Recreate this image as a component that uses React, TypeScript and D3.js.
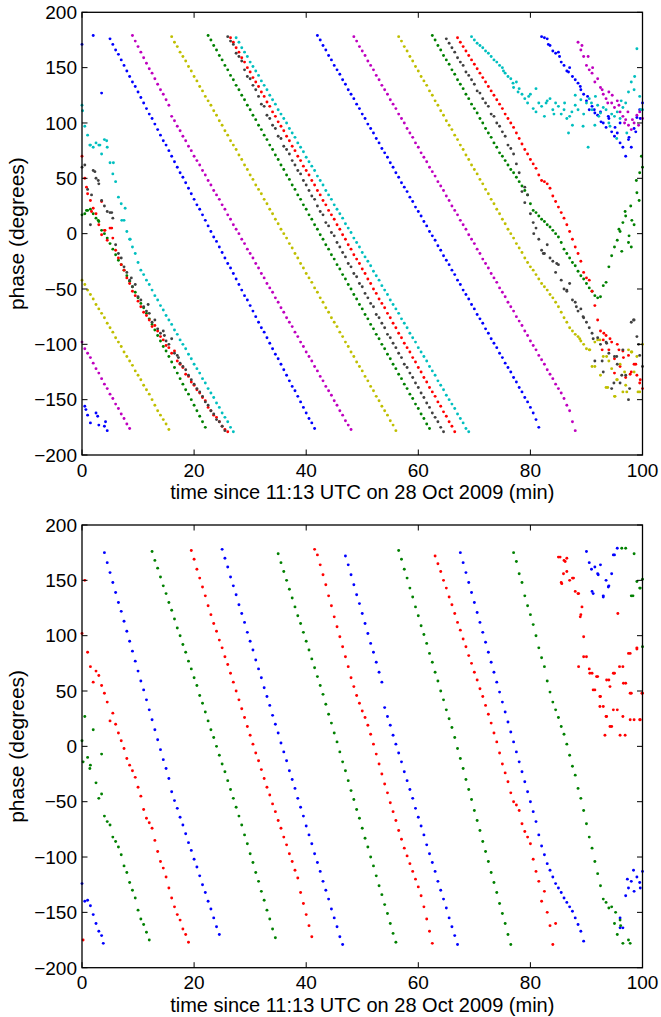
import React from "react";
import * as d3 from "d3";

// sample clock of the receiver (minutes since 11:13 UTC), one sample every 30 s
const timeMinutes = [
  0, 0.5, 1, 1.5, 2, 2.5, 3, 3.5, 4, 4.5,
  5, 5.5, 6, 6.5, 7, 7.5, 8, 8.5, 9, 9.5,
  10, 10.5, 11, 11.5, 12, 12.5, 13, 13.5, 14, 14.5,
  15, 15.5, 16, 16.5, 17, 17.5, 18, 18.5, 19, 19.5,
  20, 20.5, 21, 21.5, 22, 22.5, 23, 23.5, 24, 24.5,
  25, 25.5, 26, 26.5, 27, 27.5, 28, 28.5, 29, 29.5,
  30, 30.5, 31, 31.5, 32, 32.5, 33, 33.5, 34, 34.5,
  35, 35.5, 36, 36.5, 37, 37.5, 38, 38.5, 39, 39.5,
  40, 40.5, 41, 41.5, 42, 42.5, 43, 43.5, 44, 44.5,
  45, 45.5, 46, 46.5, 47, 47.5, 48, 48.5, 49, 49.5,
  50, 50.5, 51, 51.5, 52, 52.5, 53, 53.5, 54, 54.5,
  55, 55.5, 56, 56.5, 57, 57.5, 58, 58.5, 59, 59.5,
  60, 60.5, 61, 61.5, 62, 62.5, 63, 63.5, 64, 64.5,
  65, 65.5, 66, 66.5, 67, 67.5, 68, 68.5, 69, 69.5,
  70, 70.5, 71, 71.5, 72, 72.5, 73, 73.5, 74, 74.5,
  75, 75.5, 76, 76.5, 77, 77.5, 78, 78.5, 79, 79.5,
  80, 80.5, 81, 81.5, 82, 82.5, 83, 83.5, 84, 84.5,
  85, 85.5, 86, 86.5, 87, 87.5, 88, 88.5, 89, 89.5,
  90, 90.5, 91, 91.5, 92, 92.5, 93, 93.5, 94, 94.5,
  95, 95.5, 96, 96.5, 97, 97.5, 98, 98.5, 99, 99.5,
  100,
];

// ---------- top panel phases (degrees) ----------
const topBlue = [
  171, -156, -164, -171, 179, -162, -173, 127, -174, -178,
  176, 171, 166, 162, 157, 152, 147, 142, 137, 133,
  128, 123, 118, 113, 108, 104, 99, 94, 89, 84,
  80, 75, 70, 65, 60, 55, 51, 46, 41, 36,
  31, 26, 22, 17, 12, 7, 2, -3, -7, -12,
  -17, -22, -27, -31, -36, -41, -46, -51, -56, -60,
  -65, -70, -75, -80, -85, -89, -94, -99, -104, -109,
  -113, -118, -123, -128, -133, -138, -142, -147, -152, -157,
  -162, -167, -171, -176, 179, 175, 170, 166, 161, 157,
  152, 148, 144, 139, 135, 130, 126, 122, 117, 113,
  108, 104, 99, 95, 91, 86, 82, 77, 73, 69,
  64, 60, 55, 51, 46, 42, 38, 33, 29, 24,
  20, 16, 11, 7, 2, -2, -6, -11, -15, -20,
  -24, -28, -33, -37, -42, -46, -51, -55, -59, -64,
  -68, -73, -77, -81, -86, -90, -95, -99, -103, -108,
  -112, -117, -121, -125, -130, -134, -139, -143, -148, -152,
  -157, -162, -168, -175, 178, 177, 176, 170, 165, 163,
  164, 155, 152, 147, 150, 142, 139, 136, 130, 126,
  120, 112, 115, 109, 107, 110, 100, 96, 104, 92,
  88, 91, 82, 78, 70, 85, 78, 95, 105, 112,
  118,
];
const topGreen = [
  17, 18, 21, 22, 18, 14, 11, 3, 0, -4,
  -9, -14, -19, -24, -28, -33, -38, -43, -48, -53,
  -58, -63, -67, -72, -77, -82, -87, -92, -97, -102,
  -106, -111, -116, -121, -126, -131, -136, -141, -145, -150,
  -155, -160, -165, -170, -175, 179, 175, 170, 166, 161,
  157, 152, 148, 143, 139, 134, 130, 125, 121, 116,
  112, 107, 103, 98, 94, 89, 85, 80, 76, 71,
  67, 62, 58, 53, 49, 44, 40, 35, 31, 26,
  22, 17, 13, 8, 4, -1, -5, -10, -14, -19,
  -23, -28, -32, -37, -41, -46, -50, -55, -59, -64,
  -68, -73, -77, -82, -86, -91, -95, -100, -104, -109,
  -113, -118, -122, -127, -131, -136, -140, -145, -149, -154,
  -158, -163, -167, -172, -176, 179, 175, 170, 166, 161,
  157, 153, 148, 144, 139, 135, 131, 126, 122, 117,
  113, 109, 104, 100, 95, 91, 87, 82, 78, 73,
  70, 66, 62, 58, 55, 51, 47, 43, 39, 35,
  27, 21, 19, 16, 13, 11, 8, 6, 3, 0,
  -3, -8, -14, -18, -22, -26, -29, -34, -38, -41,
  -45, -49, -52, -56, -58, -57, -47, -44, -30, -20,
  -12, -6, 2, 10, 16, -8, -12, 8, 37, 55,
  60,
];
const topRed = [
  70, 50, 36, 30, 23, 18, 8, -1, 3, -6,
  5, -4, -15, -22, -28, -33, -40, -45, -52, -56,
  -61, -66, -71, -74, -78, -84, -83, -88, -93, -96,
  -101, -103, -108, -106, -115, -118, -121, -127, -129, -134,
  -137, -141, -144, -148, -151, -157, -160, -164, -166, -170,
  -174, -177, -179, 177, 173, 168, 164, 159, 155, 150,
  146, 141, 137, 133, 128, 124, 119, 115, 110, 106,
  101, 97, 93, 88, 84, 79, 75, 70, 66, 61,
  57, 53, 48, 44, 39, 35, 30, 26, 21, 17,
  13, 8, 4, -1, -5, -10, -14, -19, -23, -27,
  -32, -36, -41, -45, -50, -54, -59, -63, -67, -72,
  -76, -81, -85, -90, -94, -99, -103, -107, -112, -116,
  -121, -125, -130, -134, -139, -143, -147, -152, -156, -161,
  -165, -170, -174, -179, 177, 173, 169, 165, 161, 157,
  153, 149, 145, 141, 137, 133, 129, 125, 121, 117,
  113, 108, 104, 100, 96, 91, 86, 81, 76, 72,
  67, 63, 59, 53, 48, 47, 45, 41, 34, 29,
  24, 19, 14, 8, 2, -5, -12, -18, -25, -35,
  -40, -42, -52, -65, -78, -88, -96, -92, -105, -98,
  -113, -100, -120, -106, -130, -110, -125, -118, -128, -135,
  -140,
];
const topCyan = [
  116, 97, 89, 80, 78, 82, 80, 72, 85, 78,
  64, 54, 47, 33, 27, 12, 2, -5, -12, -18,
  -26, -33, -37, -42, -46, -51, -56, -60, -65, -69,
  -74, -78, -82, -87, -91, -96, -100, -104, -109, -113,
  -118, -122, -126, -131, -135, -140, -144, -148, -153, -157,
  -162, -166, -170, -175, -179, 177, 173, 168, 164, 160,
  155, 151, 147, 143, 138, 134, 130, 125, 121, 117,
  112, 108, 104, 100, 95, 91, 87, 82, 78, 74,
  69, 65, 61, 57, 52, 48, 44, 39, 35, 31,
  26, 22, 18, 14, 9, 5, 1, -4, -8, -12,
  -17, -21, -25, -29, -34, -38, -42, -47, -51, -55,
  -60, -64, -68, -72, -77, -81, -85, -90, -94, -98,
  -103, -107, -111, -115, -120, -124, -128, -133, -137, -141,
  -146, -150, -154, -158, -163, -167, -171, -176, -179, 178,
  175, 172, 170, 168, 165, 163, 160, 157, 155, 152,
  150, 145, 142, 140, 132, 137, 131, 126, 122, 118,
  126, 113, 110, 118, 115, 106, 120, 122, 112, 118,
  115, 108, 112, 104, 106, 98, 116, 112, 121, 108,
  118, 122, 112, 98, 116, 109, 114, 112, 100, 108,
  106, 110, 104, 114, 118, 128, 137, 130, 167, 124,
  112,
];
const topMagenta = [
  -98, -104, -108, -112, -117, -122, -126, -131, -136, -140,
  -145, -149, -154, -158, -163, -167, -172, -176, 179, 174,
  169, 164, 159, 154, 149, 145, 140, 135, 130, 126,
  121, 116, 106, 102, 97, 93, 88, 84, 79, 75,
  70, 66, 62, 57, 53, 48, 44, 39, 35, 31,
  26, 22, 17, 13, 8, 4, 0, -5, -9, -14,
  -18, -22, -27, -31, -36, -40, -45, -49, -53, -58,
  -62, -67, -71, -76, -80, -84, -89, -93, -98, -102,
  -107, -111, -115, -120, -124, -129, -133, -138, -142, -146,
  -151, -155, -160, -164, -169, -173, -177, 178, 174, 169,
  165, 161, 156, 152, 148, 143, 139, 134, 130, 126,
  121, 117, 113, 108, 104, 100, 95, 91, 87, 82,
  78, 73, 69, 65, 60, 56, 52, 47, 43, 39,
  34, 30, 25, 21, 17, 12, 8, 4, -1, -5,
  -9, -14, -18, -23, -27, -31, -36, -40, -44, -49,
  -53, -57, -62, -66, -70, -75, -79, -83, -88, -92,
  -97, -101, -105, -110, -114, -118, -123, -127, -131, -136,
  -140, -144, -149, -155, -160, -170, -178, 173, 166, 160,
  152, 148, 145, 137, 140, 132, 126, 122, 128, 118,
  114, 120, 110, 106, 103, 98, 94, 100, 107, 110,
  104,
];
const topYellow = [
  -42, -46, -51, -55, -59, -64, -68, -72, -76, -81,
  -85, -89, -94, -98, -102, -107, -111, -115, -119, -124,
  -128, -132, -137, -141, -145, -150, -155, -160, -164, -168,
  -172, -177, 178, 173, 169, 164, 160, 156, 151, 147,
  142, 138, 133, 129, 124, 120, 116, 111, 107, 102,
  98, 93, 89, 84, 80, 76, 71, 67, 62, 58,
  53, 49, 44, 40, 36, 31, 27, 22, 18, 13,
  9, 4, 0, -4, -9, -13, -18, -22, -27, -31,
  -36, -40, -44, -49, -53, -58, -62, -67, -71, -76,
  -80, -84, -89, -93, -98, -102, -107, -111, -116, -120,
  -124, -129, -133, -138, -142, -147, -151, -156, -160, -164,
  -169, -173, -178, 178, 174, 169, 165, 160, 156, 151,
  147, 142, 138, 134, 129, 125, 120, 116, 111, 107,
  102, 98, 94, 89, 85, 80, 76, 71, 67, 62,
  58, 54, 49, 45, 40, 36, 31, 27, 22, 18,
  13, 9, 4, 0, -4, -9, -13, -17, -22, -26,
  -30, -33, -37, -41, -45, -48, -51, -55, -58, -62,
  -66, -71, -76, -80, -85, -88, -91, -93, -97, -100,
  -104, -105, -120, -98, -96, -128, -111, -139, -115, -122,
  -147, -132, -118, -143, -137, -105, -107, -125, -111, -143,
  -100,
];
const topBlack = [
  60, 62, 40, 8, 57, 50, 45, 30, 25, 20,
  19, 14, -10, -18, -22, -30, -35, -42, -48, -46,
  -57, -60, -66, -70, -72, -80, -78, -86, -90, -88,
  -97, -100, -95, -108, -110, -117, -120, -123, -128, -132,
  -136, -140, -143, -147, -152, -155, -160, -163, -168, -170,
  -174, -178, 178, 174, 171, 163, 160, 156, 148, 142,
  140, 134, 130, 124, 117, 115, 107, 104, 98, 95,
  88, 86, 79, 76, 72, 66, 62, 57, 54, 48,
  44, 39, 34, 31, 25, 20, 17, 10, 7, 1,
  -2, -8, -12, -17, -21, -27, -30, -36, -39, -45,
  -48, -54, -58, -63, -66, -73, -76, -81, -85, -91,
  -94, -99, -103, -108, -112, -118, -121, -126, -130, -135,
  -139, -144, -148, -153, -157, -162, -166, -170, -175, -179,
  176, 172, 168, 164, 159, 155, 152, 146, 143, 139,
  135, 129, 127, 122, 118, 115, 108, 106, 100, 97,
  92, 88, 80, 77, 72, 63, 55, 38, 42, 35,
  18, 10, 5, -5, -15, -18, -10, -22, -25, -35,
  -28, -42, -50, -52, -45, -60, -62, -70, -68, -76,
  -80, -85, -90, -115, -94, -100, -125, -98, -108, -140,
  -111, -118, -135, -105, -128, -150, -80, -78, -93, -110,
  -120,
];

// additional readings in the scattered regions: [minutes, degrees]
const topBlueExtra = [
  [0.7, -159], [2.8, -165], [4.2, -170], [83.2, 171], [85.2, 160], [86.8, 146],
  [88.9, 133], [90.2, 124], [91.4, 112], [92.6, 101], [93.9, 106], [95.1, 96],
  [96, 100], [97.6, 87], [98.8, 92], [99.6, 104],
];
const topGreenExtra = [
  [95.8, 4], [96.9, 20], [97.6, -2], [98.1, 12], [98.9, 48], [99.4, 30],
  [96.3, -16], [97.9, 25], [99.8, 70], [0.8, 21], [2.9, 12],
];
const topRedExtra = [
  [0.8, 42], [1.7, 20], [3.5, 29], [5.3, 5], [4.1, 3], [93.1, -90], [94.2, -95],
  [95.8, -105], [96.6, -112], [97.8, -127], [98.8, -118], [99.6, -132], [95, -126],
  [92.8, -105],
];
const topCyanExtra = [
  [0.1, 111], [1.4, 80], [3.2, 80], [4.4, 84], [5.6, 64], [7.1, 12], [7.7, 23],
  [8.6, -5], [75.2, 147], [76.9, 136], [77.8, 128], [79.7, 124], [81, 131],
  [82.8, 118], [84.2, 108], [86.1, 118], [87.4, 110], [89.4, 97], [90.9, 118],
  [92.2, 106], [94.2, 97], [95.4, 86], [97.2, 91], [96.2, 120], [98.6, 142],
  [99.7, 112], [88, 125], [91.6, 124], [90.3, 78], [86.8, 91],
];
const topMagentaExtra = [
  [89.2, 170], [90.3, 160], [91.1, 150], [92.8, 130], [93.8, 118], [94.6, 125],
  [95.8, 116], [97.4, 110], [98.2, 103], [99.3, 98], [96.8, 100],
];
const topYellowExtra = [
  [88.8, -95], [90.6, -105], [92.4, -96], [93.6, -111], [95.4, -132], [95.1, -147],
  [97.2, -143], [98.1, -107], [99.2, -143], [93.8, -139], [91.5, -120], [96.8, -125],
];
const topBlackExtra = [
  [2.3, 56], [2.9, 48], [1.7, 35], [5.3, 19], [8.8, -40], [11.8, -64], [14.7, -92],
  [17.2, -112], [79, 28], [80.6, 0], [82.3, -18], [84.7, -27], [86.5, -51],
  [88.2, -66], [89.4, -75], [91.2, -95], [93.6, -99], [95.4, -111], [96.3, -128],
  [98.4, -78], [99.3, -100], [92.8, -115], [94.9, -135], [97.7, -140],
];

// ---------- bottom panel phases (degrees) ----------
const bottomBlue = [
  -124, -140, -139, -144, -152, -160, -167, -171, 175, 166,
  157, 148, 139, 130, 122, 113, 104, 95, 86, 77,
  68, 59, 51, 42, 33, 24, 15, 6, -3, -12,
  -20, -29, -41, -49, -56, -64, -71, -79, -87, -94,
  -102, -109, -117, -125, -132, -140, -147, -155, -163, -170,
  178, 170, 162, 153, 145, 137, 128, 120, 112, 103,
  95, 87, 78, 70, 62, 53, 45, 37, 28, 20,
  12, 3, -5, -13, -22, -30, -38, -47, -55, -63,
  -72, -80, -88, -97, -105, -113, -122, -130, -138, -147,
  -155, -163, -172, -179, 172, 164, 155, 146, 137, 129,
  120, 111, 102, 93, 85, 76, 67, 58, 35, 27,
  19, 10, 2, -6, -14, -23, -31, -39, -47, -56,
  -64, -72, -80, -89, -97, -105, -113, -122, -130, -138,
  -146, -155, -163, -171, -179, 175, 166, 157, 148, 139,
  130, 121, 112, 103, 94, 85, 76, 67, 58, 49,
  40, 31, 22, 13, 4, -5, -14, -23, -32, -41,
  -50, -59, -68, -80, -90, -98, -106, -112, -118, -124,
  -128, -132, -137, -141, -145, -149, -155, -161, -167, -176,
  176, 166, 140, 162, 156, 164, 136, 150, 145, 156,
  173, 179, -155, -164, -135, -128, -122, -131, -118, -123,
  -113,
];
const bottomGreen = [
  5, 27, -10, -17, 15, -33, -47, -43, -63, -68,
  -71, -82, -86, -91, -98, -108, -114, -123, -130, -137,
  -148, -156, -161, -168, -175, 176, 168, 161, 153, 145,
  138, 130, 123, 115, 107, 100, 92, 85, 77, 70,
  62, 55, 46, 39, 31, 23, 15, 8, 0, -8,
  -16, -23, -31, -39, -47, -55, -63, -71, -80, -88,
  -97, -105, -114, -122, -131, -139, -148, -156, -165, -173,
  174, 166, 158, 150, 142, 134, 126, 118, 111, 103,
  95, 87, 79, 71, 63, 55, 47, 38, 29, 21,
  12, 4, -5, -14, -22, -31, -40, -48, -57, -65,
  -74, -83, -91, -100, -108, -117, -126, -134, -143, -151,
  -160, -169, -177, 177, 169, 160, 152, 143, 135, 126,
  118, 109, 101, 93, 84, 76, 67, 59, 50, 42,
  33, 25, 17, 8, -2, -11, -20, -30, -39, -48,
  -58, -67, -76, -86, -95, -104, -114, -123, -132, -142,
  -151, -160, -170, -179, 175, 167, 156, 148, 136, 127,
  119, 110, 100, 89, 80, 72, 59, 49, 40, 33,
  26, 18, 11, 2, -8, -18, -26, -38, -47, -58,
  -70, -82, -92, -104, -115, -126, -138, -141, -146, -145,
  -160, -170, -157, -178, 179, -175, 136, 174, 149, 143,
  151,
];
const bottomRed = [
  102, 150, 85, 72, 58, 68, 64, 55, 48, 40,
  23, 30, 20, 12, 5, -2, -11, -17, -22, -28,
  -37, -45, -57, -65, -69, -74, -85, -95, -104, -110,
  -118, -128, -137, -145, -152, -157, -165, -170, -177, 177,
  169, 160, 152, 144, 136, 127, 119, 111, 104, 96,
  89, 81, 74, 66, 58, 50, 42, 34, 26, 18,
  10, 2, -6, -13, -21, -29, -37, -44, -52, -59,
  -67, -74, -82, -89, -97, -104, -112, -119, -132, -142,
  -152, -162, -172, 178, 173, 164, 155, 146, 136, 127,
  117, 108, 99, 90, 81, 72, 62, 54, 46, 39,
  32, 26, 19, 11, 2, -7, -16, -25, -34, -42,
  -51, -59, -67, -76, -84, -92, -99, -106, -113, -120,
  -127, -135, -145, -156, -167, -178, 172, 165, 158, 150,
  143, 135, 128, 120, 112, 105, 97, 90, 82, 75,
  67, 60, 52, 45, 37, 29, 21, 12, 4, -6,
  -16, -24, -32, -42, -50, -53, -58, -70, -77, -82,
  -88, -102, -113, -122, -140, -131, -150, -162, -179, -160,
  171, 148, 168, 158, 150, 152, 140, 138, 119, 99,
  81, 70, 66, 51, 63, 45, 36, 27, 60, 18,
  66, 33, 10, 72, 57, 84, 48, 24, 88, 24,
  48,
];

const bottomBlueExtra = [
  [90.9, 160], [91.2, 138], [92.1, 155], [93, 135], [93.9, 144], [94.8, 173],
  [97.3, -120], [98.4, -112], [99.6, -128], [96, -164], [3.8, -178],
];
const bottomGreenExtra = [
  [95.2, -150], [96.1, -162], [97.8, -178], [98.3, 136], [99.6, 143], [96.3, 179],
  [0.2, -14], [1.4, -20], [3.5, -7], [100, 90],
];
const bottomRedExtra = [
  [0.2, -175], [85.3, 171], [86.2, 167], [85.9, 156], [87.7, 152], [88.6, 138],
  [89.2, 126], [88.9, 117], [89.5, 81], [88.6, 72], [90.6, 66], [91.8, 63],
  [91.2, 51], [92.4, 45], [93.6, 60], [94.8, 66], [94.2, 54], [95.9, 72],
  [97.8, 84], [99, 89], [96.6, 57], [97.8, 48], [92.4, 36], [93.6, 27],
  [94.8, 33], [96.5, 27], [97.8, 24], [99.6, 24], [99.9, 48], [94.2, 18],
  [93.3, 10], [96.9, 10], [95.6, 120], [86.5, 170], [85.6, 147],
];

const xTickValues = [0, 20, 40, 60, 80, 100];
const yTickValues = [-200, -150, -100, -50, 0, 50, 100, 150, 200];
const xLabelText = "time since 11:13 UTC on 28 Oct 2009 (min)";
const yLabelText = "phase (degrees)";

type Series = { color: string; values: number[]; extra: number[][] };

const topSeries: Series[] = [
  { color: "#0000ff", values: topBlue, extra: topBlueExtra },
  { color: "#008000", values: topGreen, extra: topGreenExtra },
  { color: "#ff0000", values: topRed, extra: topRedExtra },
  { color: "#00bfbf", values: topCyan, extra: topCyanExtra },
  { color: "#bf00bf", values: topMagenta, extra: topMagentaExtra },
  { color: "#bfbf00", values: topYellow, extra: topYellowExtra },
  { color: "#404040", values: topBlack, extra: topBlackExtra },
];
const bottomSeries: Series[] = [
  { color: "#0000ff", values: bottomBlue, extra: bottomBlueExtra },
  { color: "#008000", values: bottomGreen, extra: bottomGreenExtra },
  { color: "#ff0000", values: bottomRed, extra: bottomRedExtra },
];

const FONT = "'Liberation Sans', Arial, Helvetica, sans-serif";
const LEFT = 82;
const RIGHT = 642.5;
const PLOT_H = 442.7;
const TICK = 5.5;
const DOT_R = 1.45;
const fmt = (v: number) => (v < 0 ? "\u2212" + Math.abs(v) : String(v));

function Panel({ top, series }: { top: number; series: Series[] }) {
  const x = d3.scaleLinear().domain([0, 100]).range([LEFT, RIGHT]);
  const y = d3.scaleLinear().domain([-200, 200]).range([top + PLOT_H, top]);
  const bottom = top + PLOT_H;
  return (
    <g>
      {series.map((s, si) => (
        <g key={si} fill={s.color}>
          {s.values.map((v, i) =>
            v == null ? null : (
              <circle key={"v" + i} cx={x(timeMinutes[i])} cy={y(v)} r={DOT_R} />
            )
          )}
          {s.extra.map((p, i) => (
            <circle key={"e" + i} cx={x(p[0])} cy={y(p[1])} r={DOT_R} />
          ))}
        </g>
      ))}
      <rect x={LEFT} y={top} width={RIGHT - LEFT} height={PLOT_H} fill="none" stroke="#000" strokeWidth={1.3} />
      {xTickValues.map((t) => (
        <g key={"xt" + t}>
          <line x1={x(t)} x2={x(t)} y1={bottom} y2={bottom - TICK} stroke="#000" strokeWidth={1} />
          <line x1={x(t)} x2={x(t)} y1={top} y2={top + TICK} stroke="#000" strokeWidth={1} />
          <text x={x(t)} y={bottom + 21.5} textAnchor="middle" fontSize={19} fontFamily={FONT}>
            {fmt(t)}
          </text>
        </g>
      ))}
      {yTickValues.map((v) => (
        <g key={"yt" + v}>
          <line x1={LEFT} x2={LEFT + TICK} y1={y(v)} y2={y(v)} stroke="#000" strokeWidth={1} />
          <line x1={RIGHT} x2={RIGHT - TICK} y1={y(v)} y2={y(v)} stroke="#000" strokeWidth={1} />
          <text x={LEFT - 5} y={y(v) + 6.8} textAnchor="end" fontSize={19} fontFamily={FONT}>
            {fmt(v)}
          </text>
        </g>
      ))}
      <text x={(LEFT + RIGHT) / 2} y={bottom + 44} textAnchor="middle" fontSize={20} fontFamily={FONT}>
        {xLabelText}
      </text>
      <text
        transform={`translate(24,${top + PLOT_H / 2}) rotate(-90)`}
        textAnchor="middle"
        fontSize={21}
        fontFamily={FONT}
      >
        {yLabelText}
      </text>
    </g>
  );
}

export default function App() {
  return (
    <div style={{ position: "absolute", left: 0, top: 0, width: 661, height: 1017, background: "#fff" }}>
      <svg width={661} height={1017} viewBox="0 0 661 1017" style={{ display: "block" }}>
        <rect x={0} y={0} width={661} height={1017} fill="#fff" />
        <Panel top={12.3} series={topSeries} />
        <Panel top={525} series={bottomSeries} />
      </svg>
    </div>
  );
}
